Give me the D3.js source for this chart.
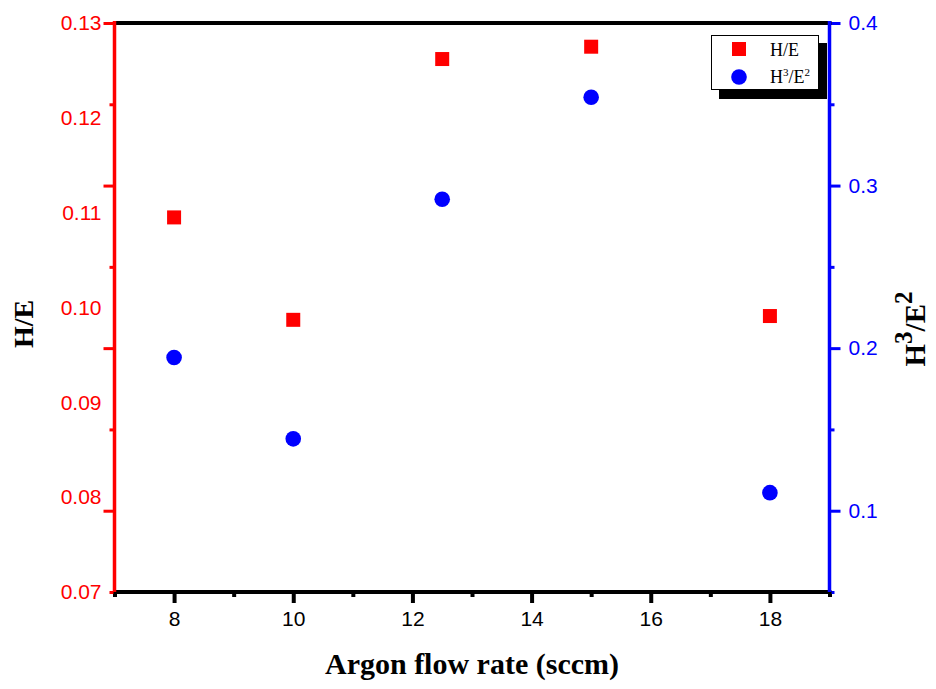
<!DOCTYPE html>
<html>
<head>
<meta charset="utf-8">
<script src="https://cdn.jsdelivr.net/npm/d3@7"></script>
<style>
  html, body { margin: 0; padding: 0; background: #fff; }
  svg { display: block; }
</style>
</head>
<body>
<svg id="chart" width="936" height="689"></svg>
<script>
// Argon flow rate (sccm) and the two hardness ratios measured at each rate
const flowRates = [8, 10, 12.5, 15, 18];
const hOverE = [0.1095, 0.0987, 0.1262, 0.1275, 0.0991];
const h3OverE2 = [0.1942, 0.1442, 0.2916, 0.3543, 0.1111];

const xTicks = [8, 10, 12, 14, 16, 18];
const xMinorTicks = [7, 9, 11, 13, 15, 17, 19];
const leftTicks = [0.07, 0.08, 0.09, 0.10, 0.11, 0.12, 0.13];
const rightTicks = [0.1, 0.2, 0.3, 0.4];
const rightMinorTicks = [0.05, 0.15, 0.25, 0.35];

const RED = "#ff0000", BLUE = "#0000ff";
const plotL = 114.5, plotR = 829.5, plotT = 23, plotB = 592;

const svg = d3.select("#chart");

const x = d3.scaleLinear().domain([7, 19]).range([plotL, plotR]);
const yL = d3.scaleLinear().domain([0.07, 0.13]).range([plotB, plotT]);
const yR = d3.scaleLinear().domain([0.05, 0.4]).range([plotB, plotT]);

function styleAxis(g, color, width) {
  g.select(".domain").remove();
  g.selectAll(".tick line").attr("stroke", color).attr("stroke-width", width);
  g.selectAll(".tick text")
    .attr("fill", color)
    .style("font-family", "'Liberation Sans', Arial, sans-serif")
    .style("font-size", "21px");
}

// bottom axis: major and minor ticks
svg.append("g").attr("transform", `translate(0,${plotB})`)
  .call(d3.axisBottom(x).tickValues(xTicks).tickSize(11).tickPadding(8).tickFormat(d3.format("d")))
  .call(g => styleAxis(g, "#000", 4));
svg.append("g").attr("transform", `translate(0,${plotB})`)
  .call(d3.axisBottom(x).tickValues(xMinorTicks).tickSize(5).tickFormat(""))
  .call(g => styleAxis(g, "#000", 4));

// left axis: labels in H/E units, tick marks on the shared grid
svg.append("g").attr("transform", `translate(${plotL},0)`)
  .call(d3.axisLeft(yL).tickValues(leftTicks).tickSize(0).tickPadding(13).tickFormat(d3.format(".2f")))
  .call(g => styleAxis(g, RED, 3));
svg.append("g").attr("transform", `translate(${plotL},0)`)
  .call(d3.axisLeft(yR).tickValues(rightTicks).tickSize(11).tickFormat(""))
  .call(g => styleAxis(g, RED, 3));
svg.append("g").attr("transform", `translate(${plotL},0)`)
  .call(d3.axisLeft(yR).tickValues(rightMinorTicks).tickSize(5).tickFormat(""))
  .call(g => styleAxis(g, RED, 3));

// right axis
svg.append("g").attr("transform", `translate(${plotR},0)`)
  .call(d3.axisRight(yR).tickValues(rightTicks).tickSize(11).tickPadding(8).tickFormat(d3.format(".1f")))
  .call(g => styleAxis(g, BLUE, 3));
svg.append("g").attr("transform", `translate(${plotR},0)`)
  .call(d3.axisRight(yR).tickValues(rightMinorTicks).tickSize(5).tickFormat(""))
  .call(g => styleAxis(g, BLUE, 3));

// frame lines
svg.append("line").attr("x1", plotL - 1).attr("x2", plotR + 2).attr("y1", plotT).attr("y2", plotT)
  .attr("stroke", "#000").attr("stroke-width", 4);
svg.append("line").attr("x1", plotL - 1).attr("x2", plotR + 2).attr("y1", plotB).attr("y2", plotB)
  .attr("stroke", "#000").attr("stroke-width", 4);
svg.append("line").attr("x1", plotL).attr("x2", plotL).attr("y1", plotT - 2).attr("y2", plotB)
  .attr("stroke", RED).attr("stroke-width", 3.5);
svg.append("line").attr("x1", plotR).attr("x2", plotR).attr("y1", plotT - 2).attr("y2", plotB)
  .attr("stroke", BLUE).attr("stroke-width", 3.5);

// H/E squares
const sq = 14;
svg.append("g").selectAll("rect")
  .data(flowRates.map((f, i) => [f, hOverE[i]]))
  .join("rect")
  .attr("x", d => x(d[0]) - sq / 2)
  .attr("y", d => yL(d[1]) - sq / 2)
  .attr("width", sq).attr("height", sq)
  .attr("fill", RED);

// H3/E2 circles
svg.append("g").selectAll("circle")
  .data(flowRates.map((f, i) => [f, h3OverE2[i]]))
  .join("circle")
  .attr("cx", d => x(d[0]))
  .attr("cy", d => yR(d[1]))
  .attr("r", 7.8)
  .attr("fill", BLUE);

// axis titles
const serif = "'Liberation Serif', 'Times New Roman', serif";
svg.append("text")
  .attr("x", (plotL + plotR) / 2).attr("y", 674)
  .attr("text-anchor", "middle")
  .style("font-family", serif).style("font-weight", "bold").style("font-size", "30px")
  .text("Argon flow rate (sccm)");

svg.append("text")
  .attr("transform", "translate(33,324) rotate(-90)")
  .attr("text-anchor", "middle")
  .style("font-family", serif).style("font-weight", "bold").style("font-size", "28px")
  .text("H/E");

const rt = svg.append("text")
  .attr("transform", "translate(925,329) rotate(-90)")
  .attr("text-anchor", "middle")
  .style("font-family", serif).style("font-weight", "bold").style("font-size", "29px");
rt.append("tspan").text("H");
rt.append("tspan").attr("dy", -13).style("font-size", "25px").text("3");
rt.append("tspan").attr("dy", 13).text("/E");
rt.append("tspan").attr("dy", -13).style("font-size", "25px").text("2");

// legend with drop shadow
const lg = svg.append("g");
lg.append("rect").attr("x", 719).attr("y", 43).attr("width", 108).attr("height", 56).attr("fill", "#000");
lg.append("rect").attr("x", 711.5).attr("y", 35.5).attr("width", 107).attr("height", 54)
  .attr("fill", "#fff").attr("stroke", "#000").attr("stroke-width", 1);
lg.append("rect").attr("x", 739 - 7).attr("y", 49 - 7).attr("width", 14).attr("height", 14).attr("fill", RED);
lg.append("circle").attr("cx", 739).attr("cy", 77).attr("r", 7.8).attr("fill", BLUE);
lg.append("text").attr("x", 770).attr("y", 56)
  .style("font-family", serif).style("font-size", "18px").text("H/E");
const l2 = lg.append("text").attr("x", 770).attr("y", 83)
  .style("font-family", serif).style("font-size", "18px");
l2.append("tspan").text("H");
l2.append("tspan").attr("dy", -7).style("font-size", "11px").text("3");
l2.append("tspan").attr("dy", 7).text("/E");
l2.append("tspan").attr("dy", -7).style("font-size", "11px").text("2");
</script>
</body>
</html>
